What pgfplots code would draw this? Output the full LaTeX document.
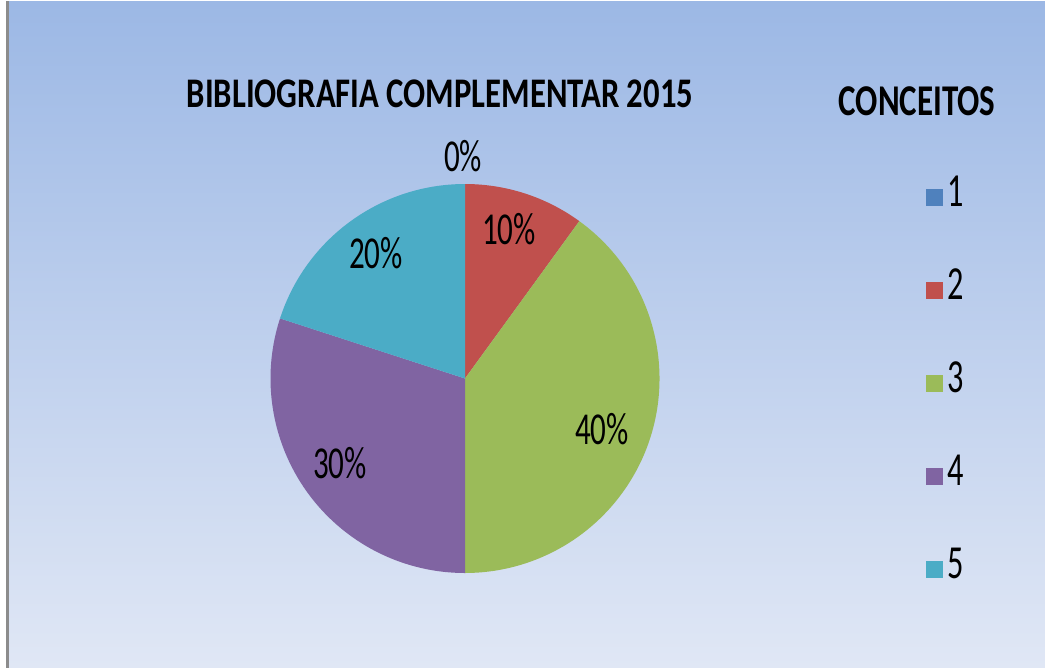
\documentclass[border=0pt]{standalone}
\usepackage{pgfplots}
\pgfplotsset{compat=1.18}
\usepackage{fontspec}
\setmainfont{Carlito}[FakeStretch=0.68]
\newfontfamily\titlefont{Carlito}[FakeStretch=0.775]
\newfontfamily\legtitlefont{Carlito}[FakeStretch=0.75]
\definecolor{c1}{HTML}{4F81BD}
\definecolor{c2}{HTML}{C0504D}
\definecolor{c3}{HTML}{9BBB59}
\definecolor{c4}{HTML}{8064A2}
\definecolor{c5}{HTML}{4BACC6}
\definecolor{bgtop}{HTML}{9CB8E5}
\definecolor{bgbot}{HTML}{E0E7F5}

\begin{document}
\begin{tikzpicture}
\begin{axis}[
  width=104.5mm, height=66.6mm, scale only axis,
  xmin=0, xmax=1045, ymin=0, ymax=666, y dir=reverse,
  hide axis, clip=false,
  legend image code/.code={\fill (0mm,-1.85mm) rectangle (1.7mm,-0.15mm);},
  legend style={at={(axis cs:925,167)}, anchor=north west, draw=none, fill=none,
    inner sep=0pt, font=\fontsize{13.5}{14}\selectfont, row sep=5.6mm,
    nodes={inner xsep=0.5mm, inner ysep=0pt, text height=3.7mm, text depth=0pt}},
]
\fill[white] (axis cs:0,0) rectangle (axis cs:1045,666);
\shade[top color=bgtop, bottom color=bgbot] (axis cs:7,0) rectangle (axis cs:1045,666);
\draw[black!45, line width=0.3mm] (axis cs:7,0) -- (axis cs:7,666);

% slices (percent), start at 90 deg, clockwise; 1 -> 0%
\fill[c2] (axis cs:465,377) -- ++(90:19.45mm)
  arc[start angle=90, delta angle=-3.6*10, radius=19.45mm] -- cycle;
\fill[c3] (axis cs:465,377) -- ++(90-3.6*10:19.45mm)
  arc[start angle=90-3.6*10, delta angle=-3.6*40, radius=19.45mm] -- cycle;
\fill[c4] (axis cs:465,377) -- ++(90-3.6*50:19.45mm)
  arc[start angle=90-3.6*50, delta angle=-3.6*30, radius=19.45mm] -- cycle;
\fill[c5] (axis cs:465,377) -- ++(90-3.6*80:19.45mm)
  arc[start angle=90-3.6*80, delta angle=-3.6*20, radius=19.45mm] -- cycle;

\begin{scope}[font=\fontsize{13}{14}\selectfont]
\node at (axis cs:463,155) {0\%};
\node at (axis cs:509,228) {10\%};
\node at (axis cs:602,428) {40\%};
\node at (axis cs:340,462) {30\%};
\node at (axis cs:376,252) {20\%};
\end{scope}

\node[font=\titlefont\bfseries\fontsize{12}{13}\selectfont] at (axis cs:440,92) {BIBLIOGRAFIA COMPLEMENTAR 2015};
\node[font=\legtitlefont\bfseries\fontsize{12.5}{13}\selectfont] at (axis cs:917,100) {CONCEITOS};

\addlegendimage{fill=c1, draw=none}
\addlegendimage{fill=c2, draw=none}
\addlegendimage{fill=c3, draw=none}
\addlegendimage{fill=c4, draw=none}
\addlegendimage{fill=c5, draw=none}
\legend{1,2,3,4,5}
\end{axis}
\end{tikzpicture}
\end{document}
